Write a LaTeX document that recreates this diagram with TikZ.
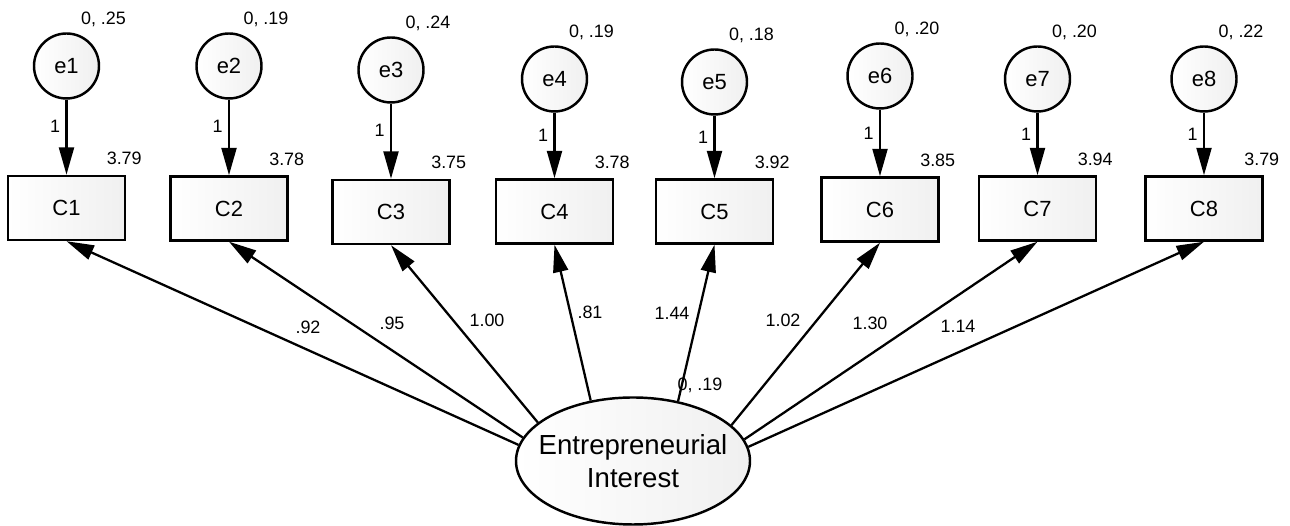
\documentclass[tikz,border=0pt]{standalone}
\usepackage{fontspec}
\setmainfont{Liberation Sans}
\usetikzlibrary{arrows.meta,shapes.geometric}

\begin{document}
\begin{tikzpicture}[
	  obs/.style={draw, line width=1.4pt, left color=white, right color=gray!12, minimum width=2.34cm, minimum height=1.28cm, font=\fontsize{12.5}{14}\selectfont},
	  err/.style={draw, circle, line width=1.4pt, left color=white, right color=gray!12, minimum size=1.3cm, inner sep=0pt, font=\fontsize{12.5}{14}\selectfont},
	  lat/.style={draw, ellipse, line width=1.4pt, left color=white, right color=gray!12, minimum width=4.68cm, minimum height=2.54cm, inner sep=0pt},
	  lattext/.style={inner sep=0pt, align=center, font=\fontsize{15.7}{18.7}\selectfont},
	  lab/.style={inner sep=0pt, font=\fontsize{10.2}{12}\selectfont},
	  load/.style={line width=1.3pt, -{Triangle[length=0.55cm,width=0.3cm]}}
	]
	  \useasboundingbox (0,0) rectangle (25.8,10.52);

	 % observed items
	 \node[obs] (C1) at (1.33,6.36) {C1};
	 \node[obs] (C2) at (4.58,6.35) {C2};
	 \node[obs] (C3) at (7.82,6.28) {C3};
	 \node[obs] (C4) at (11.09,6.29) {C4};
	 \node[obs] (C5) at (14.29,6.29) {C5};
	 \node[obs] (C6) at (17.60,6.33) {C6};
	 \node[obs] (C7) at (20.75,6.35) {C7};
	 \node[obs] (C8) at (24.08,6.35) {C8};

	 % error terms
	 \node[err] (e1) at (1.33,9.20) {e1};
	 \node[err] (e2) at (4.58,9.20) {e2};
	 \node[err] (e3) at (7.82,9.12) {e3};
	 \node[err] (e4) at (11.09,8.94) {e4};
	 \node[err] (e5) at (14.29,8.88) {e5};
	 \node[err] (e6) at (17.60,9.00) {e6};
	 \node[err] (e7) at (20.75,8.94) {e7};
	 \node[err] (e8) at (24.08,8.94) {e8};

	 \node[lat] (EI) at (12.66,1.30) {};
	 \node[lattext] (EItext) at (EI) {Entrepreneurial\\Interest};

	 % variances
	 \node[lab] (v1) at ([shift={(0.74,0.94)}]e1) {0, .25};
	 \node[lab] (v2) at ([shift={(0.74,0.94)}]e2) {0, .19};
	 \node[lab] (v3) at ([shift={(0.74,0.94)}]e3) {0, .24};
	 \node[lab] (v4) at ([shift={(0.74,0.94)}]e4) {0, .19};
	 \node[lab] (v5) at ([shift={(0.74,0.94)}]e5) {0, .18};
	 \node[lab] (v6) at ([shift={(0.74,0.94)}]e6) {0, .20};
	 \node[lab] (v7) at ([shift={(0.74,0.94)}]e7) {0, .20};
	 \node[lab] (v8) at ([shift={(0.74,0.94)}]e8) {0, .22};
	 \node[lab] (v0) at (14.00,2.82) {0, .19};

	 % intercepts
	 \node[lab] (m1) at ([shift={(-0.04,0.32)}]C1.north east) {3.79};
	 \node[lab] (m2) at ([shift={(-0.04,0.32)}]C2.north east) {3.78};
	 \node[lab] (m3) at ([shift={(-0.04,0.32)}]C3.north east) {3.75};
	 \node[lab] (m4) at ([shift={(-0.04,0.32)}]C4.north east) {3.78};
	 \node[lab] (m5) at ([shift={(-0.04,0.32)}]C5.north east) {3.92};
	 \node[lab] (m6) at ([shift={(-0.04,0.32)}]C6.north east) {3.85};
	 \node[lab] (m7) at ([shift={(-0.04,0.32)}]C7.north east) {3.94};
	 \node[lab] (m8) at ([shift={(-0.04,0.32)}]C8.north east) {3.79};

	 \draw[load] (e1) -- node[lab, pos=0.35, left=3pt] (w1) {1} (C1);
	 \draw[load] (e2) -- node[lab, pos=0.35, left=3pt] (w2) {1} (C2);
	 \draw[load] (e3) -- node[lab, pos=0.35, left=3pt] (w3) {1} (C3);
	 \draw[load] (e4) -- node[lab, pos=0.35, left=3pt] (w4) {1} (C4);
	 \draw[load] (e5) -- node[lab, pos=0.35, left=3pt] (w5) {1} (C5);
	 \draw[load] (e6) -- node[lab, pos=0.35, left=3pt] (w6) {1} (C6);
	 \draw[load] (e7) -- node[lab, pos=0.35, left=3pt] (w7) {1} (C7);
	 \draw[load] (e8) -- node[lab, pos=0.35, left=3pt] (w8) {1} (C8);

	 \draw[load] (EI.172) -- (C1.south);
	 \draw[load] (EI.168.7) -- (C2.south);
	 \draw[load] (EI.158.4) -- (C3.south);
	 \draw[load] (EI.125.2) -- (C4.south);
	 \draw[load] (EI.53) -- (C5.south);
	 \draw[load] (EI.20.4) -- (C6.south);
	 \draw[load] (EI.11.8) -- (C7.south);
	 \draw[load] (EI.7.9) -- (C8.south);

	 % loadings
	 \node[lab] (l1) at (6.16,3.98) {.92};
	 \node[lab] (l2) at (7.84,4.06) {.95};
	 \node[lab] (l3) at (9.74,4.12) {1.00};
	 \node[lab] (l4) at (11.80,4.28) {.81};
	 \node[lab] (l5) at (13.44,4.26) {1.44};
	 \node[lab] (l6) at (15.66,4.12) {1.02};
	 \node[lab] (l7) at (17.40,4.06) {1.30};
	 \node[lab] (l8) at (19.16,4.00) {1.14};
	\end{tikzpicture}
\end{document}
